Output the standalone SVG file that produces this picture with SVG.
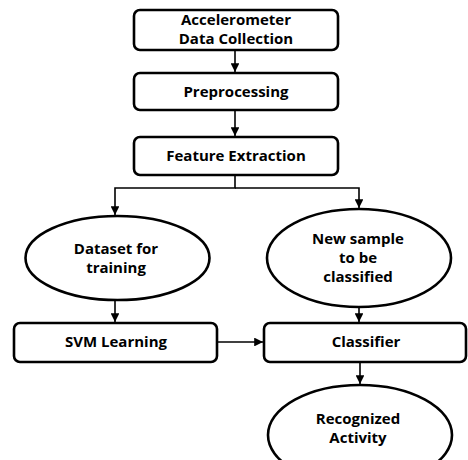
<svg xmlns="http://www.w3.org/2000/svg" width="468" height="460" viewBox="0 0 468 460">
<style>
.n{fill:#fff;stroke:#000;stroke-width:2.6}
.t{font-family:"Open Sans","Noto Sans",sans-serif;font-weight:bold;font-size:15px;fill:#000;text-anchor:middle}
.c{fill:none;stroke:#000;stroke-width:1.6}
</style>
<defs>
<marker id="a" viewBox="0 0 10 10" refX="10" refY="5" markerWidth="5.5" markerHeight="5.5" orient="auto" markerUnits="strokeWidth">
<path d="M0,0 L10,5 L0,10 Z" fill="#000"/>
</marker>
</defs>
<rect width="468" height="460" fill="#fff"/>
<g id="connectors">
<line class="c" x1="235" y1="50" x2="235" y2="72" marker-end="url(#a)"/>
<line class="c" x1="235" y1="110" x2="235" y2="136" marker-end="url(#a)"/>
<polyline class="c" points="235,175 235,188 115,188 115,215" marker-end="url(#a)"/>
<polyline class="c" points="235,188 359,188 359,208" marker-end="url(#a)"/>
<line class="c" x1="115" y1="300" x2="115" y2="322" marker-end="url(#a)"/>
<line class="c" x1="359" y1="307" x2="359" y2="322" marker-end="url(#a)"/>
<line class="c" x1="217" y1="342" x2="263" y2="342" marker-end="url(#a)"/>
<line class="c" x1="360" y1="362" x2="360" y2="384" marker-end="url(#a)"/>
</g>
<g id="n1"><rect class="n" x="134" y="10" width="204" height="40" rx="6"/>
<text class="t" x="236" y="25">Accelerometer</text><text class="t" x="236" y="44">Data Collection</text></g>
<g id="n2"><rect class="n" x="134" y="73" width="204" height="37" rx="6"/>
<text class="t" x="236" y="97">Preprocessing</text></g>
<g id="n3"><rect class="n" x="134" y="137" width="204" height="38" rx="6"/>
<text class="t" x="236" y="161">Feature Extraction</text></g>
<g id="n4"><ellipse class="n" cx="117.5" cy="258" rx="92" ry="42"/>
<text class="t" x="116" y="254">Dataset for</text><text class="t" x="116" y="273">training</text></g>
<g id="n5"><ellipse class="n" cx="359" cy="258" rx="92" ry="49"/>
<text class="t" x="358" y="244">New sample</text><text class="t" x="358" y="263">to be</text><text class="t" x="358" y="282">classified</text></g>
<g id="n6"><rect class="n" x="14" y="323" width="203" height="39" rx="6"/>
<text class="t" x="116" y="347">SVM Learning</text></g>
<g id="n7"><rect class="n" x="264" y="323" width="202" height="39" rx="6"/>
<text class="t" x="366" y="347">Classifier</text></g>
<g id="n8"><ellipse class="n" cx="360" cy="435" rx="92" ry="50"/>
<text class="t" x="358" y="424">Recognized</text><text class="t" x="358" y="443">Activity</text></g>
</svg>
